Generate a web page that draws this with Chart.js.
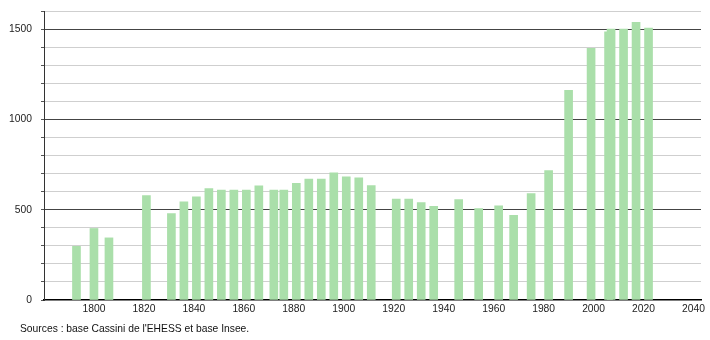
<!DOCTYPE html>
<html>
<head>
<meta charset="utf-8">
<script src="https://cdn.jsdelivr.net/npm/chart.js@4"></script>
<style>
  html, body { margin: 0; padding: 0; background: #fff; }
  #wrap { position: relative; width: 710px; height: 340px; }
</style>
</head>
<body>
<div id="wrap"><canvas id="chart" width="710" height="340"></canvas></div>
<script>
// census years and population
const years = [1793, 1800, 1806, 1821, 1831, 1836, 1841, 1846, 1851, 1856, 1861, 1866, 1872, 1876,
  1881, 1886, 1891, 1896, 1901, 1906, 1911, 1921, 1926, 1931, 1936, 1946, 1954, 1962, 1968,
  1975, 1982, 1990, 1999, 2006, 2007, 2012, 2017, 2022];
const population = [297, 396, 344, 578, 479, 543, 571, 617, 609, 609, 609, 632, 609, 609,
  646, 670, 670, 704, 682, 676, 633, 559, 559, 539, 519, 556, 506, 522, 469,
  589, 717, 1161, 1394, 1485, 1500, 1500, 1537, 1506];

const xTickYears = [1800, 1820, 1840, 1860, 1880, 1900, 1920, 1940, 1960, 1980, 2000, 2020, 2040];
const yTickLabels = [0, 500, 1000, 1500];
const sourceText = "Sources : base Cassini de l'EHESS et base Insee.";

const FONT = 'Liberation Sans, Arial, sans-serif';

// draws the source line under the axis
const sourcePlugin = {
  id: 'source',
  afterDraw(chart) {
    const c = chart.ctx;
    c.save();
    c.font = '10.3px ' + FONT;
    c.fillStyle = '#111';
    c.textBaseline = 'middle';
    c.fillText(sourceText, 20, 329);
    c.restore();
  }
};

new Chart(document.getElementById('chart').getContext('2d'), {
  type: 'bar',
  data: {
    datasets: [{
      data: years.map((y, i) => ({ x: y, y: population[i] })),
      backgroundColor: '#aadfaa',
      borderWidth: 0,
      barThickness: 8
    }]
  },
  options: {
    responsive: false,
    animation: false,
    layout: { padding: { top: 11, right: 9, left: 0, bottom: 0 } },
    plugins: { legend: { display: false }, tooltip: { enabled: false } },
    scales: {
      x: {
        type: 'linear',
        min: 1780,
        max: 2043,
        offset: false,
        grid: { display: false, offset: false, drawTicks: false },
        border: { display: true, color: '#000', width: 1.5 },
        afterBuildTicks: s => { s.ticks = xTickYears.map(v => ({ value: v })); },
        afterFit: s => { s.height = 40; },
        ticks: {
          padding: 3,
          color: '#222',
          font: { family: FONT, size: 10.3 },
          maxRotation: 0,
          autoSkip: false,
          callback: v => String(v)
        }
      },
      y: {
        min: 0,
        max: 1600,
        afterFit: s => { s.width = 44; s.paddingTop = 0; },
        afterBuildTicks: s => {
          const t = [];
          for (let v = 0; v <= 1600; v += 100) t.push({ value: v });
          s.ticks = t;
        },
        border: { display: true, color: '#333', width: 1 },
        grid: {
          tickLength: 3,
          tickColor: '#555',
          lineWidth: 1,
          color: c => {
            const v = c.tick.value;
            if (v === 0) return 'rgba(0,0,0,0)';
            return v % 500 === 0 ? '#444' : '#cfcfcf';
          }
        },
        ticks: {
          padding: 9,
          color: '#222',
          font: { family: FONT, size: 10.3, lineHeight: 0.5 },
          autoSkip: false,
          callback: v => yTickLabels.includes(v) ? String(v) : ''
        }
      }
    }
  },
  plugins: [sourcePlugin]
});
</script>
</body>
</html>
